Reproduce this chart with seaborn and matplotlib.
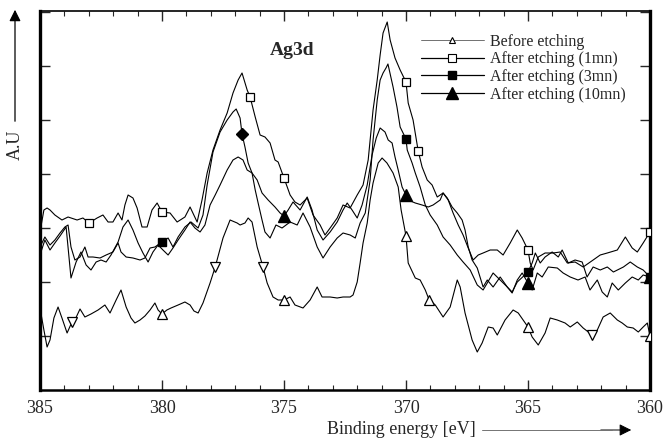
import numpy as np
import pandas as pd
import matplotlib
matplotlib.use("Agg")
import matplotlib.pyplot as plt
import seaborn as sns
from matplotlib.lines import Line2D
from matplotlib.ticker import MultipleLocator

# ---------------- Ag3d XPS spectra (binding energy in eV, intensity in a.u.) ----------------
energy_before = [
    385.00, 384.84, 384.71, 384.59, 384.43, 384.26, 384.10, 383.89, 383.69, 383.57,
    383.36, 383.16, 382.91, 382.62, 382.34, 382.13, 381.88, 381.68, 381.47, 381.27,
    381.11, 380.90, 380.70, 380.49, 380.29, 380.16, 380.00, 379.80, 379.63, 379.34,
    379.06, 378.85, 378.69, 378.52, 378.32, 378.03, 377.82, 377.50, 377.21, 376.92,
    376.80, 376.60, 376.47, 376.31, 376.10, 375.86, 375.69, 375.45, 375.24, 375.00,
    374.75, 374.55, 374.22, 373.93, 373.64, 373.44, 373.11, 372.82, 372.58, 372.29,
    372.17, 372.00, 371.88, 371.76, 371.59, 371.47, 371.35, 371.14, 370.98, 370.78,
    370.53, 370.32, 370.20, 370.00, 369.91, 369.62, 369.42, 369.21, 369.05, 368.80,
    368.48, 368.19, 367.90, 367.78, 367.58, 367.29, 367.08, 366.88, 366.63, 366.43,
    366.26, 365.94, 365.61, 365.40, 365.00, 364.83, 364.58, 364.30, 364.09, 363.80,
    363.48, 363.27, 362.98, 362.74, 362.37, 362.16, 361.92, 361.63, 361.34, 361.14,
    360.93, 360.69, 360.48, 360.28, 360.11, 360.00,
]
intensity_before = [
    82, 60, 43, 50, 72, 83, 72, 57, 68, 70,
    81, 73, 76, 80, 85, 77, 90, 100, 83, 72,
    67, 70, 74, 80, 87, 80, 76, 80, 82, 85,
    88, 85, 79, 77, 87, 107, 123, 152, 170, 167,
    165, 167, 172, 168, 143, 123, 107, 93, 90, 90,
    93, 85, 82, 90, 103, 93, 93, 92, 93, 93,
    95, 108, 127, 147, 167, 190, 207, 227, 232, 227,
    217, 203, 180, 154, 127, 112, 110, 100, 90, 85,
    73, 83, 110, 103, 77, 50, 38, 47, 63, 62,
    55, 70, 80, 77, 63, 53, 45, 57, 72, 70,
    67, 63, 68, 62, 55, 60, 73, 77, 70, 67,
    63, 62, 58, 63, 67, 54,
]

energy_1mn = [
    385.00, 384.84, 384.71, 384.59, 384.39, 384.10, 383.85, 383.48, 383.24, 382.99,
    382.66, 382.42, 382.21, 382.01, 381.80, 381.64, 381.52, 381.39, 381.19, 381.02,
    380.82, 380.61, 380.41, 380.20, 380.00, 379.67, 379.38, 379.06, 378.85, 378.56,
    378.36, 378.15, 377.91, 377.62, 377.33, 377.09, 376.88, 376.72, 376.51, 376.39,
    376.18, 375.98, 375.78, 375.57, 375.37, 375.24, 375.00, 374.75, 374.55, 374.34,
    374.05, 373.81, 373.52, 373.32, 373.11, 372.82, 372.58, 372.29, 372.00, 371.76,
    371.55, 371.35, 371.18, 371.06, 370.94, 370.77, 370.65, 370.45, 370.24, 370.00,
    369.91, 369.71, 369.50, 369.34, 369.13, 368.93, 368.72, 368.48, 368.27, 368.07,
    367.86, 367.66, 367.45, 367.25, 367.04, 366.84, 366.55, 366.26, 366.02, 365.73,
    365.44, 365.24, 365.00, 364.91, 364.79, 364.58, 364.30, 363.97, 363.68, 363.39,
    363.07, 362.74, 362.33, 362.04, 361.75, 361.34, 361.01, 360.73, 360.52, 360.28,
    360.00,
]
intensity_1mn = [
    158, 180, 182, 180, 175, 170, 173, 170, 172, 167,
    172, 175, 168, 168, 177, 170, 185, 195, 192, 182,
    163, 163, 180, 187, 178, 177, 168, 173, 183, 168,
    190, 217, 240, 260, 277, 297, 310, 317, 300, 293,
    273, 255, 253, 247, 230, 228, 212, 195, 188, 185,
    192, 175, 165, 155, 162, 172, 185, 182, 195, 205,
    230, 280, 310, 335, 357, 368, 350, 332, 320, 308,
    287, 270, 239, 223, 210, 205, 193, 197, 190, 177,
    165, 155, 142, 130, 135, 137, 140, 140, 135, 147,
    160, 152, 140, 127, 120, 133, 137, 137, 138, 127,
    128, 123, 130, 135, 137, 140, 153, 142, 138, 147,
    158,
]

energy_3mn = [
    385.00, 384.80, 384.59, 384.39, 384.18, 383.98, 383.85, 383.73, 383.57, 383.36,
    383.16, 383.03, 382.83, 382.54, 382.29, 382.01, 381.80, 381.68, 381.47, 381.19,
    380.90, 380.70, 380.49, 380.29, 380.00, 379.75, 379.55, 379.34, 379.06, 378.81,
    378.52, 378.32, 378.15, 377.91, 377.62, 377.33, 377.09, 376.96, 376.80, 376.72,
    376.60, 376.47, 376.31, 376.18, 376.06, 375.90, 375.78, 375.57, 375.33, 375.08,
    374.75, 374.46, 374.22, 373.93, 373.64, 373.40, 373.11, 372.82, 372.58, 372.29,
    372.08, 371.88, 371.67, 371.47, 371.35, 371.18, 371.06, 370.94, 370.82, 370.74,
    370.53, 370.37, 370.24, 370.00, 369.95, 369.75, 369.62, 369.42, 369.21, 369.01,
    368.72, 368.48, 368.19, 367.90, 367.66, 367.37, 367.08, 366.84, 366.67, 366.43,
    366.14, 365.85, 365.65, 365.44, 365.00, 364.83, 364.70, 364.50, 364.30, 364.01,
    363.76, 363.60, 363.35, 363.07, 362.78, 362.58, 362.33, 362.04, 361.75, 361.50,
    361.09, 360.81, 360.52, 360.28, 360.00,
]
intensity_3mn = [
    143, 153, 145, 150, 157, 163, 165, 143, 130, 133,
    143, 133, 133, 132, 135, 138, 147, 138, 133, 132,
    130, 132, 142, 143, 148, 152, 143, 153, 163, 168,
    162, 175, 205, 238, 258, 270, 278, 281, 272, 256,
    243, 227, 217, 200, 187, 170, 158, 152, 165, 162,
    168, 165, 177, 163, 143, 132, 143, 152, 157, 155,
    152, 167, 177, 210, 250, 290, 310, 317, 322, 326,
    303, 283, 263, 251, 240, 227, 217, 203, 185, 175,
    165, 153, 145, 135, 128, 120, 105, 100, 107, 117,
    110, 103, 98, 108, 118, 127, 137, 127, 133, 138,
    133, 140, 127, 130, 128, 113, 123, 120, 123, 118,
    123, 128, 123, 120, 113,
]

energy_10mn = [
    385.00, 384.80, 384.59, 384.39, 384.18, 383.93, 383.73, 383.52, 383.32, 383.11,
    382.91, 382.70, 382.50, 382.29, 382.09, 381.80, 381.60, 381.39, 381.19, 380.98,
    380.78, 380.57, 380.37, 380.16, 379.96, 379.75, 379.55, 379.34, 379.06, 378.85,
    378.65, 378.44, 378.24, 378.03, 377.82, 377.62, 377.33, 377.09, 376.88, 376.68,
    376.51, 376.31, 376.10, 375.90, 375.65, 375.37, 375.16, 375.00, 374.83, 374.63,
    374.34, 374.05, 373.85, 373.64, 373.40, 373.11, 372.82, 372.58, 372.41, 372.21,
    372.00, 371.80, 371.59, 371.39, 371.22, 371.06, 370.86, 370.73, 370.57, 370.45,
    370.32, 370.16, 370.00, 369.91, 369.62, 369.34, 369.09, 368.89, 368.60, 368.48,
    368.31, 368.11, 367.90, 367.70, 367.58, 367.45, 367.29, 367.08, 366.84, 366.67,
    366.43, 366.14, 365.85, 365.65, 365.44, 365.24, 365.00, 364.83, 364.62, 364.42,
    364.17, 363.80, 363.56, 363.27, 362.95, 362.66, 362.46, 362.16, 361.96, 361.75,
    361.55, 361.30, 361.01, 360.73, 360.48, 360.28, 360.00,
]
intensity_10mn = [
    135, 150, 140, 147, 154, 163, 112, 128, 138, 125,
    120, 128, 130, 128, 135, 148, 163, 170, 160, 147,
    137, 128, 138, 145, 140, 135, 142, 150, 160, 168,
    162, 158, 165, 185, 195, 205, 220, 230, 233, 230,
    220, 217, 210, 197, 190, 183, 177, 174, 180, 188,
    180, 193, 180, 160, 150, 158, 168, 180, 187, 180,
    172, 185, 205, 235, 252, 262, 258, 250, 247, 233,
    220, 203, 195, 190, 187, 185, 183, 185, 190, 197,
    192, 183, 177, 170, 160, 143, 130, 122, 103, 110,
    103, 113, 103, 97, 110, 117, 107, 100, 117, 113,
    123, 122, 117, 113, 110, 113, 100, 110, 98, 93,
    107, 100, 107, 113, 110, 115, 113,
]

# energies at which each spectrum carries a symbol
marks_before_up = [380.00, 375.00, 370.00, 369.05, 365.00, 360.00]
marks_before_down = [383.69, 377.82, 375.86, 362.37]
marks_1mn = [382.99, 380.00, 376.39, 375.00, 370.00, 369.50, 365.00, 360.00]
marks_3mn = [380.00, 370.00, 365.00, 360.00]
marks_3mn_diamond = [376.72]
marks_10mn = [375.00, 370.00, 365.00, 360.00]

labels = ["Before etching", "After etching (1mn)", "After etching (3mn)", "After etching (10mn)"]

# ---------------- figure ----------------
sns.set_style("ticks")
plt.rcParams["font.family"] = ["Liberation Serif", "DejaVu Serif"]

fig = plt.figure(figsize=(6.67, 4.43), dpi=100)
ax = fig.add_axes([40 / 667, 53 / 443, 610 / 667, 379 / 443])

frames = []
for lab, e, i in zip(labels,
                     [energy_before, energy_1mn, energy_3mn, energy_10mn],
                     [intensity_before, intensity_1mn, intensity_3mn, intensity_10mn]):
    frames.append(pd.DataFrame({"energy": e, "intensity": i, "sample": lab}))
df = pd.concat(frames, ignore_index=True)

for lab in labels:
    sns.lineplot(data=df[df["sample"] == lab], x="energy", y="intensity",
                 sort=False, estimator=None, color="black", linewidth=0.8,
                 ax=ax, legend=False)


def pick(e, i, marks):
    e = np.asarray(e)
    i = np.asarray(i)
    m = np.isin(np.round(e, 2), np.round(marks, 2))
    return e[m], i[m]


def draw_marks(e, i, marks, **kw):
    xe, yi = pick(e, i, marks)
    ax.plot(xe, yi, linestyle="none", color="black", zorder=5, **kw)


draw_marks(energy_before, intensity_before, marks_before_up,
           marker="^", ms=6.5, mfc="white", mec="black", mew=0.9)
draw_marks(energy_before, intensity_before, marks_before_down,
           marker="v", ms=7.5, mfc="white", mec="black", mew=0.9)
draw_marks(energy_1mn, intensity_1mn, marks_1mn,
           marker="s", ms=5.5, mfc="white", mec="black", mew=0.9)
draw_marks(energy_3mn, intensity_3mn, marks_3mn,
           marker="s", ms=6, mfc="black", mec="black")
draw_marks(energy_3mn, intensity_3mn, marks_3mn_diamond,
           marker="D", ms=6, mfc="black", mec="black")
draw_marks(energy_10mn, intensity_10mn, marks_10mn,
           marker="^", ms=8, mfc="black", mec="black")

# axes styling
ax.set_xlim(385, 360)
ax.set_ylim(0, 379)
ax.xaxis.set_major_locator(MultipleLocator(5))
ax.xaxis.set_minor_locator(MultipleLocator(1))
ax.set_yticks(np.arange(54, 379, 54))
ax.set_yticklabels([])
ax.tick_params(axis="x", which="major", direction="in", length=7, width=1.0,
               top=True, bottom=True, labelsize=13, pad=7)
ax.tick_params(axis="x", which="minor", direction="in", length=3.5, width=0.8,
               top=True, bottom=True)
ax.tick_params(axis="y", which="major", direction="in", length=7, width=1.0,
               left=True, right=True)
ax.set_xlabel("")
ax.set_ylabel("")
for side, lw in {"left": 2.4, "bottom": 1.8, "right": 2.4, "top": 1.2}.items():
    ax.spines[side].set_visible(True)
    ax.spines[side].set_linewidth(lw)
    ax.spines[side].set_color("black")

ax.text(0.377, 0.897, "Ag3d", transform=ax.transAxes, fontsize=14,
        fontweight="bold", ha="left", va="center")

handles = [
    Line2D([0], [0], color="0.35", lw=0.6, marker="^", ms=5, mfc="white", mec="black", mew=0.8),
    Line2D([0], [0], color="black", lw=0.9, marker="s", ms=5.5, mfc="white", mec="black", mew=0.8),
    Line2D([0], [0], color="black", lw=0.9, marker="s", ms=6, mfc="black", mec="black"),
    Line2D([0], [0], color="black", lw=0.9, marker="^", ms=8, mfc="black", mec="black"),
]
ax.legend(handles, labels, loc="upper left", bbox_to_anchor=(0.625, 0.94),
          frameon=False, fontsize=11.5, handlelength=3.9, handletextpad=0.4,
          labelspacing=0.1, borderpad=0, borderaxespad=0, numpoints=1)

# axis captions with arrows
fig.text(15 / 667, 1 - 145 / 443, "A.U", rotation=90, ha="center", va="center", fontsize=13)
fig.add_artist(matplotlib.patches.FancyArrowPatch(
    (15 / 667, 1 - 124 / 443), (15 / 667, 1 - 7 / 443), transform=fig.transFigure,
    arrowstyle="-|>", mutation_scale=17, lw=0.9, color="black"))

fig.text(401 / 667, 1 - 429 / 443, "Binding energy [eV]", ha="center", va="center", fontsize=13)
fig.add_artist(Line2D([482 / 667, 612 / 667], [1 - 430 / 443, 1 - 430 / 443],
                      transform=fig.transFigure, color="0.45", lw=0.7))
fig.add_artist(matplotlib.patches.FancyArrowPatch(
    (598 / 667, 1 - 430 / 443), (634 / 667, 1 - 430 / 443), transform=fig.transFigure,
    arrowstyle="-|>", mutation_scale=18, lw=0.7, color="black"))

fig.savefig("out.png", dpi=100)
